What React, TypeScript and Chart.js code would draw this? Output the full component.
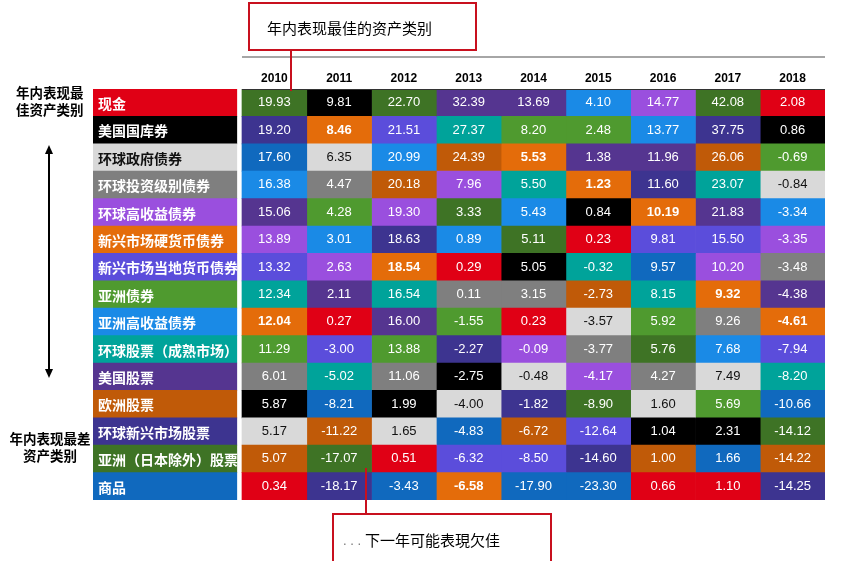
import { useEffect, useRef } from 'react';
import { Chart, registerables } from 'chart.js';

Chart.register(...registerables);

const years = ['2010', '2011', '2012', '2013', '2014', '2015', '2016', '2017', '2018'];

const assetNames = [
  '现金', '美国国库券', '环球政府债券', '环球投资级别债券', '环球高收益债券',
  '新兴市场硬货币债券', '新兴市场当地货币债券', '亚洲债券', '亚洲高收益债券',
  '环球股票（成熟市场）', '美国股票', '欧洲股票', '环球新兴市场股票',
  '亚洲（日本除外）股票', '商品',
];
const assetKeys = ['R', 'K', 'LG', 'G', 'P', 'O', 'V', 'GR', 'B', 'T', 'DP', 'BR', 'DI', 'DG', 'CB'];

const v2010 = [19.93, 19.20, 17.60, 16.38, 15.06, 13.89, 13.32, 12.34, 12.04, 11.29, 6.01, 5.87, 5.17, 5.07, 0.34];
const k2010 = ['DG', 'DI', 'CB', 'B', 'DP', 'P', 'V', 'T', 'O', 'GR', 'G', 'K', 'LG', 'BR', 'R'];
const v2011 = [9.81, 8.46, 6.35, 4.47, 4.28, 3.01, 2.63, 2.11, 0.27, -3.00, -5.02, -8.21, -11.22, -17.07, -18.17];
const k2011 = ['K', 'O', 'LG', 'G', 'GR', 'B', 'P', 'DP', 'R', 'V', 'T', 'CB', 'BR', 'DG', 'DI'];
const v2012 = [22.70, 21.51, 20.99, 20.18, 19.30, 18.63, 18.54, 16.54, 16.00, 13.88, 11.06, 1.99, 1.65, 0.51, -3.43];
const k2012 = ['DG', 'V', 'B', 'BR', 'P', 'DI', 'O', 'T', 'DP', 'GR', 'G', 'K', 'LG', 'R', 'CB'];
const v2013 = [32.39, 27.37, 24.39, 7.96, 3.33, 0.89, 0.29, 0.11, -1.55, -2.27, -2.75, -4.00, -4.83, -6.32, -6.58];
const k2013 = ['DP', 'T', 'BR', 'P', 'DG', 'B', 'R', 'G', 'GR', 'DI', 'K', 'LG', 'CB', 'V', 'O'];
const v2014 = [13.69, 8.20, 5.53, 5.50, 5.43, 5.11, 5.05, 3.15, 0.23, -0.09, -0.48, -1.82, -6.72, -8.50, -17.90];
const k2014 = ['DP', 'GR', 'O', 'T', 'B', 'DG', 'K', 'G', 'R', 'P', 'LG', 'DI', 'BR', 'V', 'CB'];
const v2015 = [4.10, 2.48, 1.38, 1.23, 0.84, 0.23, -0.32, -2.73, -3.57, -3.77, -4.17, -8.90, -12.64, -14.60, -23.30];
const k2015 = ['B', 'GR', 'DP', 'O', 'K', 'R', 'T', 'BR', 'LG', 'G', 'P', 'DG', 'V', 'DI', 'CB'];
const v2016 = [14.77, 13.77, 11.96, 11.60, 10.19, 9.81, 9.57, 8.15, 5.92, 5.76, 4.27, 1.60, 1.04, 1.00, 0.66];
const k2016 = ['P', 'B', 'DP', 'DI', 'O', 'V', 'CB', 'T', 'GR', 'DG', 'G', 'LG', 'K', 'BR', 'R'];
const v2017 = [42.08, 37.75, 26.06, 23.07, 21.83, 15.50, 10.20, 9.32, 9.26, 7.68, 7.49, 5.69, 2.31, 1.66, 1.10];
const k2017 = ['DG', 'DI', 'BR', 'T', 'DP', 'V', 'P', 'O', 'G', 'B', 'LG', 'GR', 'K', 'CB', 'R'];
const v2018 = [2.08, 0.86, -0.69, -0.84, -3.34, -3.35, -3.48, -4.38, -4.61, -7.94, -8.20, -10.66, -14.12, -14.22, -14.25];
const k2018 = ['R', 'K', 'GR', 'LG', 'B', 'P', 'G', 'DP', 'O', 'V', 'T', 'CB', 'DG', 'BR', 'DI'];

const palette: Record<string, string> = {
  R: '#e00015',
  K: '#000000',
  LG: '#d9d9d9',
  G: '#7f7f7f',
  P: '#9a4fde',
  O: '#e46c0a',
  V: '#5b4ddb',
  GR: '#4f9a2f',
  B: '#1a8ae6',
  T: '#00a39a',
  DP: '#553590',
  BR: '#c05a08',
  DI: '#3d3490',
  DG: '#3e7325',
  CB: '#1069be',
};

const RED = '#c8101e';
const CJK = '"Noto Sans CJK SC", sans-serif';
const LAT = '"Liberation Sans", Arial, sans-serif';

export default function App() {
  const ref = useRef<HTMLCanvasElement>(null);

  useEffect(() => {
    document.body.style.margin = '0';
    const canvas = ref.current;
    if (!canvas) return;
    const yearValues = [v2010, v2011, v2012, v2013, v2014, v2015, v2016, v2017, v2018];
    const yearKeys = [k2010, k2011, k2012, k2013, k2014, k2015, k2016, k2017, k2018];

    const common = {
      grouped: false,
      barPercentage: 1,
      categoryPercentage: 1,
      borderWidth: 0,
      borderSkipped: false,
    };

    const datasets: any[] = [
      {
        label: 'labels',
        data: assetNames.map(() => [-2.3, -0.08]),
        backgroundColor: assetKeys.map((k) => palette[k]),
        ...common,
      },
      ...years.map((y, j) => ({
        label: y,
        data: assetNames.map(() => [j, j + 1]),
        backgroundColor: yearKeys[j].map((k) => palette[k]),
        ...common,
      })),
    ];

    const textPlugin = {
      id: 'texts',
      afterDatasetsDraw(chart: any) {
        const ctx = chart.ctx;
        ctx.save();
        chart.data.datasets.forEach((ds: any, di: number) => {
          const meta = chart.getDatasetMeta(di);
          meta.data.forEach((el: any, i: number) => {
            const c = el.getCenterPoint();
            if (di === 0) {
              const key = assetKeys[i];
              ctx.fillStyle = key === 'LG' ? '#111' : '#fff';
              ctx.font = `bold 14px ${CJK}`;
              ctx.textAlign = 'left';
              ctx.textBaseline = 'middle';
              const left = Math.min(el.x, el.base);
              ctx.fillText(assetNames[i], left + 5, c.y + 1);
            } else {
              const j = di - 1;
              const key = yearKeys[j][i];
              ctx.fillStyle = key === 'LG' ? '#111' : '#fff';
              ctx.font = `${key === 'O' ? 'bold ' : ''}13px ${LAT}`;
              ctx.textAlign = 'center';
              ctx.textBaseline = 'middle';
              ctx.fillText(yearValues[j][i].toFixed(2), c.x, c.y);
            }
          });
        });
        // year headers
        const xs = chart.scales.x;
        ctx.fillStyle = '#000';
        ctx.font = `bold 12px ${LAT}`;
        ctx.textAlign = 'center';
        ctx.textBaseline = 'middle';
        years.forEach((y, j) => {
          ctx.fillText(y, xs.getPixelForValue(j + 0.5), 79);
        });
        ctx.restore();
      },
      afterDraw(chart: any) {
        const ctx = chart.ctx;
        const xs = chart.scales.x;
        const left = xs.getPixelForValue(0);
        const right = xs.getPixelForValue(9);
        ctx.save();
        // gray rule
        ctx.strokeStyle = '#a6a6a6';
        ctx.lineWidth = 2;
        ctx.beginPath();
        ctx.moveTo(left, 57);
        ctx.lineTo(right, 57);
        ctx.stroke();
        // top border of table
        ctx.strokeStyle = '#333';
        ctx.lineWidth = 1;
        ctx.beginPath();
        ctx.moveTo(left, 89.5);
        ctx.lineTo(right, 89.5);
        ctx.stroke();

        // top callout
        ctx.strokeStyle = RED;
        ctx.lineWidth = 2;
        ctx.fillStyle = '#fff';
        ctx.fillRect(249, 3, 227, 47);
        ctx.strokeRect(249, 3, 227, 47);
        ctx.beginPath();
        ctx.moveTo(291, 50);
        ctx.lineTo(291, 91);
        ctx.stroke();
        ctx.fillStyle = '#000';
        ctx.font = `15px ${CJK}`;
        ctx.textAlign = 'left';
        ctx.textBaseline = 'middle';
        ctx.fillText('年内表现最佳的资产类别', 267, 28);

        // bottom callout
        ctx.strokeStyle = RED;
        ctx.beginPath();
        ctx.moveTo(366, 468);
        ctx.lineTo(366, 514);
        ctx.stroke();
        ctx.fillStyle = '#fff';
        ctx.fillRect(333, 514, 218, 50);
        ctx.strokeRect(333, 514, 218, 50);
        ctx.fillStyle = '#777';
        ctx.font = `13px ${LAT}`;
        ctx.fillText('. . .', 343, 541);
        ctx.fillStyle = '#000';
        ctx.font = `15px ${CJK}`;
        ctx.fillText('下一年可能表現欠佳', 365, 540);

        // left annotations
        ctx.font = `bold 13.5px ${CJK}`;
        ctx.textAlign = 'left';
        ctx.fillText('年内表现最', 16, 93);
        ctx.fillText('佳资产类别', 16, 110);
        ctx.textAlign = 'center';
        ctx.fillText('年内表现最差', 50, 439);
        ctx.fillText('资产类别', 50, 456);

        // double arrow
        ctx.strokeStyle = '#000';
        ctx.lineWidth = 2;
        ctx.beginPath();
        ctx.moveTo(49, 152);
        ctx.lineTo(49, 371);
        ctx.stroke();
        ctx.fillStyle = '#000';
        ctx.beginPath();
        ctx.moveTo(49, 145);
        ctx.lineTo(45, 154);
        ctx.lineTo(53, 154);
        ctx.closePath();
        ctx.fill();
        ctx.beginPath();
        ctx.moveTo(49, 378);
        ctx.lineTo(45, 369);
        ctx.lineTo(53, 369);
        ctx.closePath();
        ctx.fill();
        ctx.restore();
      },
    };

    const chart = new Chart(canvas, {
      type: 'bar',
      data: { labels: assetNames, datasets },
      options: {
        indexAxis: 'y',
        animation: false,
        responsive: false,
        maintainAspectRatio: false,
        layout: { padding: { left: 93, right: 17, top: 89, bottom: 61 } },
        scales: {
          x: { type: 'linear', min: -2.3, max: 9, display: false },
          y: { type: 'category', display: false, offset: true },
        },
        plugins: {
          legend: { display: false },
          tooltip: { enabled: false },
          title: { display: false },
        },
      },
      plugins: [textPlugin],
    } as any);

    return () => chart.destroy();
  }, []);

  return (
    <div style={{ position: 'absolute', left: 0, top: 0, width: 842, height: 561, background: '#fff' }}>
      <canvas ref={ref} width={842} height={561} style={{ display: 'block', width: 842, height: 561 }} />
    </div>
  );
}
